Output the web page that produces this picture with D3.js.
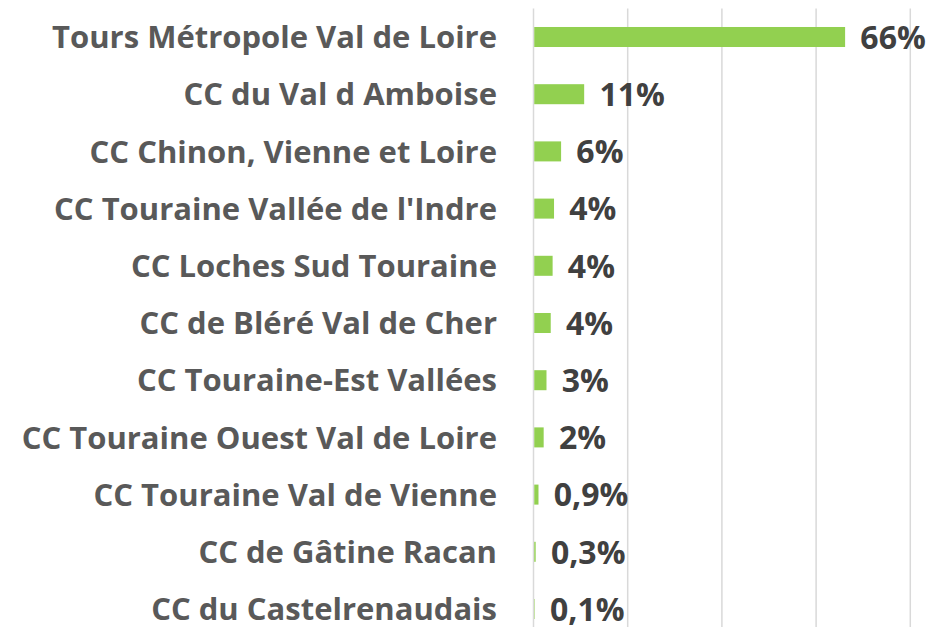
<!DOCTYPE html>
<html>
<head>
<meta charset="utf-8">
<script src="https://cdn.jsdelivr.net/npm/d3@7"></script>
<style>
  body { margin: 0; background: #fff; }
  svg { display: block; }
</style>
</head>
<body>
<div id="chart"></div>
<script>
// Part of each EPCI in the total (percent)
const territories = [
  "Tours Métropole Val de Loire",
  "CC du Val d Amboise",
  "CC Chinon, Vienne et Loire",
  "CC Touraine Vallée de l'Indre",
  "CC Loches Sud Touraine",
  "CC de Bléré Val de Cher",
  "CC Touraine-Est Vallées",
  "CC Touraine Ouest Val de Loire",
  "CC Touraine Val de Vienne",
  "CC de Gâtine Racan",
  "CC du Castelrenaudais"
];
const shares = [66, 10.6, 5.7, 4.2, 3.9, 3.5, 2.6, 2.0, 0.9, 0.3, 0.1];
const shareLabels = ["66%", "11%", "6%", "4%", "4%", "4%", "3%", "2%", "0,9%", "0,3%", "0,1%"];
const gridTicks = [0, 20, 40, 60, 80];

const width = 927;
const height = 627;
const plotLeft = 533.5, plotRight = 910.3;
const plotTop = 8.4, plotBottom = 637.6;

const svg = d3.select("#chart")
  .append("svg")
  .attr("width", width)
  .attr("height", height);

const x = d3.scaleLinear()
  .domain([0, 80])
  .range([plotLeft, plotRight]);

const y = d3.scaleBand()
  .domain(territories)
  .range([plotTop, plotBottom])
  .paddingInner(0.65)
  .paddingOuter(0.325);

// vertical gridlines
svg.selectAll(".grid")
  .data(gridTicks)
  .enter()
  .append("line")
  .attr("class", "grid")
  .attr("x1", d => x(d))
  .attr("x2", d => x(d))
  .attr("y1", plotTop)
  .attr("y2", plotBottom)
  .attr("stroke", "#d9d9d9")
  .attr("stroke-width", 1.5);

// bars
svg.selectAll(".bar")
  .data(shares)
  .enter()
  .append("rect")
  .attr("class", "bar")
  .attr("x", x(0) + 0.75)
  .attr("y", (d, i) => y(territories[i]))
  .attr("width", d => x(d) - x(0))
  .attr("height", y.bandwidth())
  .attr("fill", "#92d050");

// category labels
svg.selectAll(".cat")
  .data(territories)
  .enter()
  .append("text")
  .attr("class", "cat")
  .attr("x", 497)
  .attr("y", d => y(d) + y.bandwidth() / 2)
  .attr("dy", "0.36em")
  .attr("text-anchor", "end")
  .style("font-family", "'Open Sans', sans-serif")
  .style("font-weight", "bold")
  .style("font-size", "31px")
  .style("fill", "#595959")
  .text(d => d);

// value labels
svg.selectAll(".val")
  .data(shares)
  .enter()
  .append("text")
  .attr("class", "val")
  .attr("x", d => x(d) + 16)
  .attr("y", (d, i) => y(territories[i]) + y.bandwidth() / 2)
  .attr("dy", "0.37em")
  .style("font-family", "'Open Sans', sans-serif")
  .style("font-weight", "bold")
  .style("font-size", "32px")
  .style("fill", "#404040")
  .text((d, i) => shareLabels[i]);
</script>
</body>
</html>
